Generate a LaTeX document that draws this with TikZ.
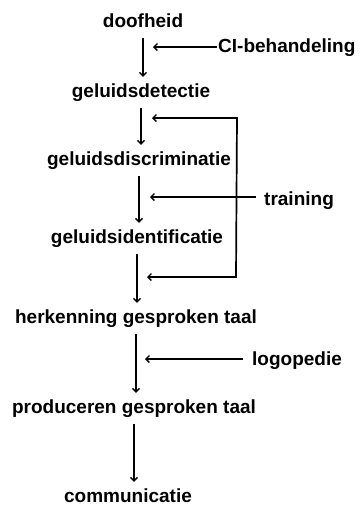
\documentclass[tikz,border=0pt]{standalone}
\usepackage{fontspec}
\setmainfont{Liberation Sans}
\usetikzlibrary{arrows.meta}
\begin{document}
\begin{tikzpicture}[x=1pt,y=-1pt,
  lbl/.style={inner sep=0pt,text height=14pt,text depth=4pt,font=\fontsize{19}{22}\selectfont\bfseries},
  tip/.tip={Straight Barb[length=3.5pt,width=7pt,line width=1.3pt]},
  arr/.style={line width=1.7pt,-tip},
  flow/.style={arr,shorten <=7pt,shorten >=6pt}]
\useasboundingbox (0,0) rectangle (364,507);
\node[lbl,anchor=base] (d) at (143,27) {doofheid};
\node[lbl,anchor=base] (gd) at (141,97) {geluidsdetectie};
\node[lbl,anchor=base] (gdis) at (139,165) {geluidsdiscriminatie};
\node[lbl,anchor=base] (gid) at (137,243) {geluidsidentificatie};
\node[lbl,anchor=base] (hg) at (136,323) {herkenning gesproken taal};
\node[lbl,anchor=base] (pg) at (134,413) {produceren gesproken taal};
\node[lbl,anchor=base] (com) at (128,502) {communicatie};
\node[lbl,anchor=base west] (ci) at (218,52) {CI-behandeling};
\node[lbl,anchor=base west] (tr) at (264,205) {training};
\node[lbl,anchor=base west] (lo) at (252,365) {logopedie};
% main chain
\draw[flow] (d.south) -- (d.south |- gd.north);
\draw[flow] (gd.south) -- (gd.south |- gdis.north);
\draw[flow] (gdis.south) -- (gdis.south |- gid.north);
\draw[flow] (gid.south) -- (gid.south |- hg.north);
\draw[flow] (hg.south) -- (hg.south |- pg.north);
\draw[flow] (pg.south) -- (pg.south |- com.north);
% side inputs
\coordinate (c1) at (153,47);
\coordinate (c2) at (150,197);
\coordinate (c3) at (145,359);
\draw[arr,shorten <=1pt] (ci.west |- c1) -- (c1);
\draw[arr,shorten <=8pt] (tr.west |- c2) -- (c2);
\draw[arr,shorten <=9pt] (lo.west |- c3) -- (c3);
% feedback loop
\coordinate (lt) at (152,118);
\coordinate (rt) at (237,118);
\coordinate (rb) at (236,277);
\coordinate (lb) at (147,277);
\draw[arr,tip-tip] (lt) -- (rt) -- (rb) -- (lb);
\end{tikzpicture}
\end{document}
